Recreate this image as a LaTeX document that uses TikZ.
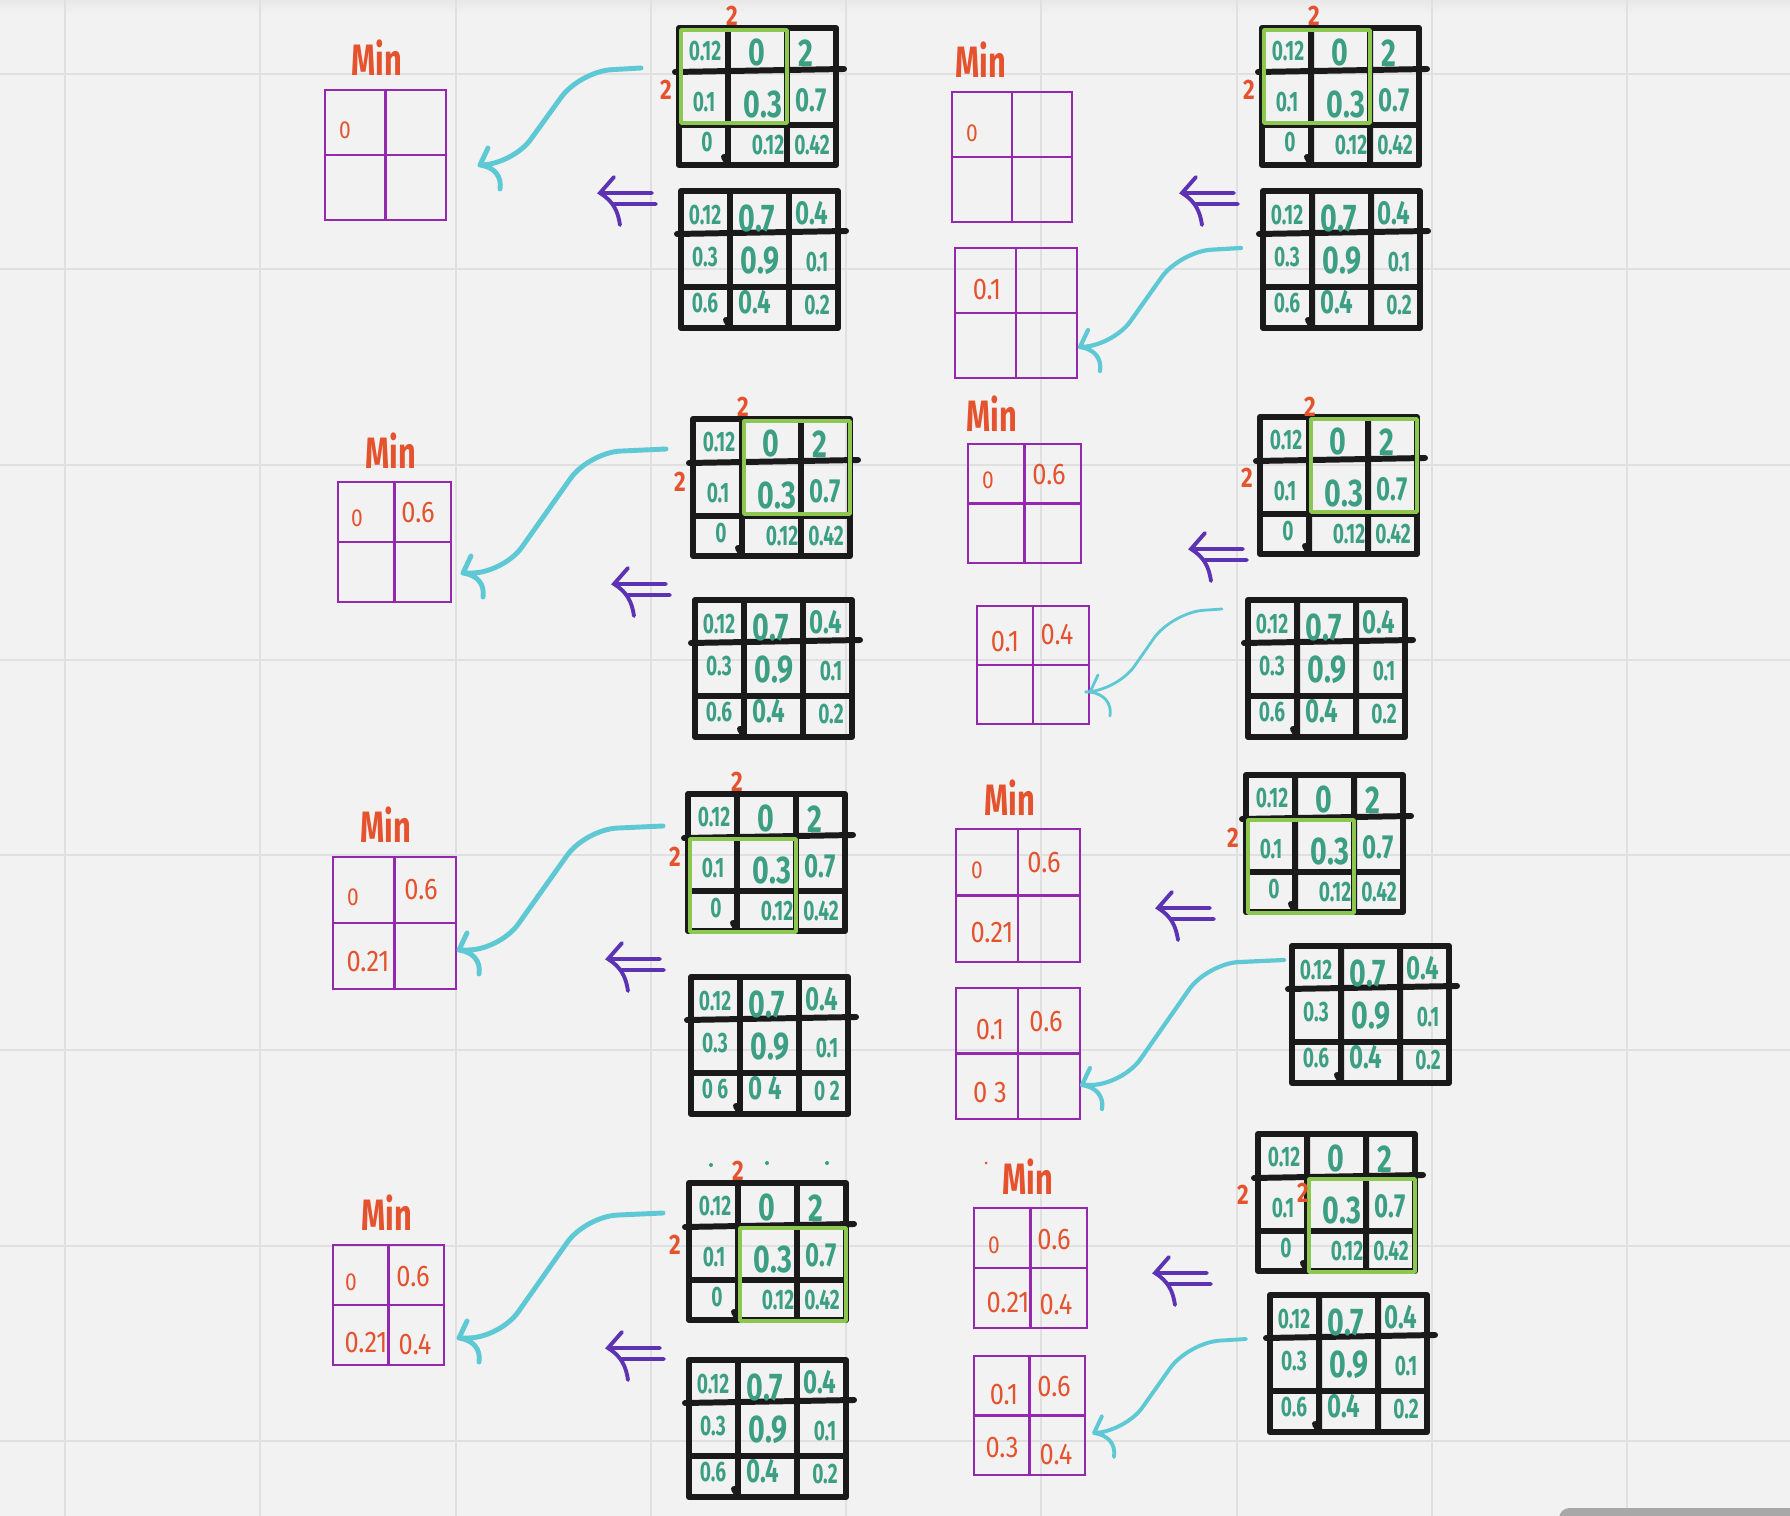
\documentclass[tikz,border=0pt]{standalone}
\usepackage{fontspec}
\setmainfont{Fira Sans}
\usetikzlibrary{calc}

\definecolor{paper}{HTML}{F2F2F2}
\definecolor{rule}{HTML}{E0E0E0}
\definecolor{ink}{HTML}{1A1A1A}
\definecolor{boxpurple}{HTML}{9429B0}
\definecolor{wingreen}{HTML}{8CC84F}
\definecolor{redink}{HTML}{E4532E}
\definecolor{tealink}{HTML}{3C9F84}
\definecolor{cyanink}{HTML}{5EC9D4}
\definecolor{violetink}{HTML}{5D33B3}
\definecolor{scrollgray}{HTML}{A8A8A8}

% first 3x3 input: name, x, y (top left), window offset x, y
\newcommand{\gridA}[5]{
\begin{scope}[shift={(#2,#3)}]
\draw[kline] (0,0) rectangle (157,137);
\draw[kline] (49,0) -- (49,137) (108,0) -- (108,137) (-4,44) -- (165,41) (0,97) -- (157,97)
  (45,129) -- (49,136);
\node[nums] (#1-11) at (26,23) {0.12};
\node[numl] (#1-12) at (78,24) {0};
\node[numl] (#1-13) at (127,25) {2};
\node[nums] (#1-21) at (25,74) {0.1};
\node[numl] (#1-22) at (84,76) {0.3};
\node[numm] (#1-23) at (132,72) {0.7};
\node[nums] (#1-31) at (28,114) {0};
\node[nums] (#1-32) at (89,117) {0.12};
\node[nums] (#1-33) at (133,117) {0.42};
\draw[win] (#4+2,#5+2) rectangle ++(106,93);
\end{scope}}

% second 3x3 input: [separator], name, x, y (top left)
\newcommand{\gridB}[4][.]{
\begin{scope}[shift={(#3,#4)}]
\draw[kline] (0,0) rectangle (157,137);
\draw[kline] (49,0) -- (49,137) (108,0) -- (108,137) (-4,43) -- (165,40) (0,96) -- (157,96)
  (45,129) -- (49,136);
\node[nums] (#2-11) at (24,24) {0.12};
\node[numl] (#2-12) at (76,27) {0.7};
\node[numm] (#2-13) at (131,22) {0.4};
\node[nums] (#2-21) at (24,66) {0.3};
\node[numl] (#2-22) at (79,70) {0.9};
\node[nums] (#2-23) at (136,71) {0.1};
\node[nums] (#2-31) at (24,112) {0#16};
\node[numm] (#2-32) at (74,111) {0#14};
\node[nums] (#2-33) at (136,114) {0#12};
\end{scope}}

% 2x2 result box: x, y (top left), width, height
\newcommand{\minbox}[4]{
\draw[mline] (#1,#2) rectangle ++(#3,#4);
\draw[mline] ($(#1,#2)+(#3/2,0)$) -- ++(0,#4) ($(#1,#2)+(0,#4/2)$) -- ++(#3,0);}

% hand drawn arrow from a matrix to a box
\newcommand{\swoop}[3][]{
\draw[swoop,#1] let \p1=(#2), \p2=(#3) in
 (\p1) -- ({\x1+0.38*(\x2-\x1)},{\y1-1pt}) -- ({\x1+0.8*(\x2-\x1)},\y2) -- (\p2)
 (\p2) -- ++(8,-17)
 (\p2) .. controls +(14,2) and +(2,-13) .. +(20,24);}

\begin{document}
\begin{tikzpicture}[x=0.01cm, y=-0.01cm,
  sheet/.style={rule, line width=0.6pt},
  kline/.style={ink, line width=1.7pt, line cap=round, line join=round},
  mline/.style={boxpurple, line width=0.8pt},
  win/.style={wingreen, line width=1pt, line join=round},
  hand/.style={inner sep=0pt, text=tealink},
  nums/.style={hand, font=\bfseries\fontsize{8}{8}\selectfont, xscale=0.68},
  numm/.style={hand, font=\bfseries\fontsize{9.5}{9.5}\selectfont, xscale=0.72},
  numl/.style={hand, font=\bfseries\fontsize{11}{11}\selectfont, xscale=0.74},
  val/.style={inner sep=0pt, text=redink, font=\fontsize{8.5}{8.5}\selectfont, xscale=0.85},
  valsm/.style={val, font=\fontsize{7}{7}\selectfont},
  lbl/.style={inner sep=0pt, text=redink, font=\bfseries\fontsize{12.5}{12.5}\selectfont, xscale=0.7},
  dim/.style={inner sep=0pt, text=redink, font=\bfseries\fontsize{8}{8}\selectfont, xscale=0.8},
  swoop/.style={cyanink, line width=1.4pt, line cap=round, rounded corners=9pt},
  imp/.pic={\draw[violetink, line width=1.1pt, line cap=round]
    (14,-16) -- (0,0) .. controls (13,8) and (18,18) .. (20,32)
    (0,0) -- (52,0) (14,11) -- (56,11);}]
\useasboundingbox (0,0) rectangle (1790,1516);
\clip (0,0) rectangle (1790,1516);
\fill[paper] (0,0) rectangle (1790,1516);
\shade[top color=black!9, bottom color=paper] (0,0) rectangle (1790,14);
\draw[sheet] (65,0) -- (65,1516) (260,0) -- (260,1516) (456,0) -- (456,1516)
  (651,0) -- (651,1516) (846,0) -- (846,1516) (1041,0) -- (1041,1516)
  (1237,0) -- (1237,1516) (1432,0) -- (1432,1516) (1627,0) -- (1627,1516);
\draw[sheet] (0,74) -- (1790,74) (0,269) -- (1790,269) (0,465) -- (1790,465)
  (0,660) -- (1790,660) (0,855) -- (1790,855) (0,1050) -- (1790,1050)
  (0,1246) -- (1790,1246) (0,1441) -- (1790,1441);
\fill[scrollgray, rounded corners=3pt] (1559,1508) rectangle (1830,1540);

% step 1
\node[lbl] (p1min) at (377,58) {Min};
\minbox{325}{90}{121}{130}
\node[valsm] (p1v1) at (345,130) {0};
\gridA{p1a}{679}{28}{0}{0}
\node[dim] (p1top) at (732,16) {2};
\node[dim] (p1left) at (666,90) {2};
\gridB{p1b}{681}{191}
\coordinate (p1from) at (641,68);
\coordinate (p1to) at (480,165);
\swoop{p1from}{p1to}
\pic (p1imp) at (600,193) {imp};

% step 2
\node[lbl] (p2min) at (981,60) {Min};
\minbox{952}{92}{120}{130}
\node[valsm] (p2v1) at (972,133) {0};
\minbox{955}{248}{122}{130}
\node[val] (p2w1) at (987,290) {0.1};
\gridA{p2a}{1262}{28}{0}{0}
\node[dim] (p2top) at (1314,16) {2};
\node[dim] (p2left) at (1249,90) {2};
\gridB{p2b}{1263}{191}
\pic (p2imp) at (1182,193) {imp};
\coordinate (p2from) at (1241,248);
\coordinate (p2to) at (1080,347);
\swoop[line width=1.2pt]{p2from}{p2to}

% step 3
\node[lbl] (p3min) at (391,451) {Min};
\minbox{338}{482}{113}{120}
\node[valsm] (p3v1) at (357,518) {0};
\node[val] (p3v2) at (418,513) {0.6};
\gridA{p3a}{693}{419}{49}{0}
\node[dim] (p3top) at (743,407) {2};
\node[dim] (p3left) at (680,482) {2};
\gridB{p3b}{695}{600}
\coordinate (p3from) at (666,449);
\coordinate (p3to) at (463,573);
\swoop{p3from}{p3to}
\pic (p3imp) at (614,584) {imp};

% step 4
\node[lbl] (p4min) at (992,414) {Min};
\minbox{968}{444}{113}{119}
\node[valsm] (p4v1) at (988,480) {0};
\node[val] (p4v2) at (1049,475) {0.6};
\minbox{977}{606}{112}{118}
\node[val] (p4w1) at (1005,642) {0.1};
\node[val] (p4w2) at (1057,635) {0.4};
\gridA{p4a}{1260}{417}{49}{0}
\node[dim] (p4top) at (1310,407) {2};
\node[dim] (p4left) at (1247,478) {2};
\gridB{p4b}{1248}{600}
\pic (p4imp) at (1191,549) {imp};
\coordinate (p4from) at (1222,609);
\coordinate (p4to) at (1090,692);
\swoop[line width=0.8pt]{p4from}{p4to}

% step 5
\node[lbl] (p5min) at (386,825) {Min};
\minbox{333}{857}{123}{132}
\node[valsm] (p5v1) at (353,897) {0};
\node[val] (p5v2) at (421,890) {0.6};
\node[val] (p5v3) at (368,962) {0.21};
\gridA{p5a}{688}{794}{0}{43}
\node[dim] (p5top) at (737,782) {2};
\node[dim] (p5left) at (675,857) {2};
\gridB[\ ]{p5b}{691}{977}
\coordinate (p5from) at (663,826);
\coordinate (p5to) at (459,950);
\swoop{p5from}{p5to}
\pic (p5imp) at (608,959) {imp};

% step 6
\node[lbl] (p6min) at (1010,798) {Min};
\minbox{956}{829}{124}{133}
\node[valsm] (p6v1) at (977,870) {0};
\node[val] (p6v2) at (1044,863) {0.6};
\node[val] (p6v3) at (992,933) {0.21};
\minbox{956}{988}{124}{131}
\node[val] (p6w1) at (990,1030) {0.1};
\node[val] (p6w2) at (1046,1022) {0.6};
\node[val] (p6w3) at (990,1093) {0 3};
\gridA{p6a}{1246}{775}{0}{43}
\node[dim] (p6left) at (1233,838) {2};
\gridB{p6b}{1292}{946}
\pic (p6imp) at (1158,908) {imp};
\coordinate (p6from) at (1284,960);
\coordinate (p6to) at (1082,1085);
\swoop[line width=1.2pt]{p6from}{p6to}

% step 7
\node[lbl] (p7min) at (387,1213) {Min};
\minbox{333}{1245}{111}{120}
\node[valsm] (p7v1) at (351,1282) {0};
\node[val] (p7v2) at (413,1277) {0.6};
\node[val] (p7v3) at (366,1343) {0.21};
\node[val] (p7v4) at (415,1345) {0.4};
\gridA{p7a}{689}{1183}{49}{43}
\node[dim] (p7top) at (738,1171) {2};
\node[dim] (p7left) at (675,1245) {2};
\fill[tealink] (711,1165) circle (2) (767,1163) circle (2) (827,1163) circle (2);
\gridB{p7b}{689}{1360}
\coordinate (p7from) at (663,1213);
\coordinate (p7to) at (459,1338);
\swoop{p7from}{p7to}
\pic (p7imp) at (608,1348) {imp};

% step 8
\node[lbl] (p8min) at (1028,1177) {Min};
\fill[redink] (986,1163) circle (1.5);
\minbox{974}{1208}{113}{120}
\node[valsm] (p8v1) at (994,1245) {0};
\node[val] (p8v2) at (1054,1240) {0.6};
\node[val] (p8v3) at (1008,1303) {0.21};
\node[val] (p8v4) at (1056,1305) {0.4};
\minbox{974}{1356}{111}{119}
\node[val] (p8w1) at (1004,1395) {0.1};
\node[val] (p8w2) at (1054,1387) {0.6};
\node[val] (p8w3) at (1002,1448) {0.3};
\node[val] (p8w4) at (1056,1455) {0.4};
\gridA{p8a}{1258}{1134}{49}{43}
\node[dim] (p8left) at (1243,1195) {2};
\node[dim] (p8mid) at (1303,1193) {2};
\gridB{p8b}{1270}{1295}
\pic (p8imp) at (1155,1273) {imp};
\coordinate (p8from) at (1246,1339);
\coordinate (p8to) at (1094,1433);
\swoop[line width=1.1pt]{p8from}{p8to}
\end{tikzpicture}
\end{document}
